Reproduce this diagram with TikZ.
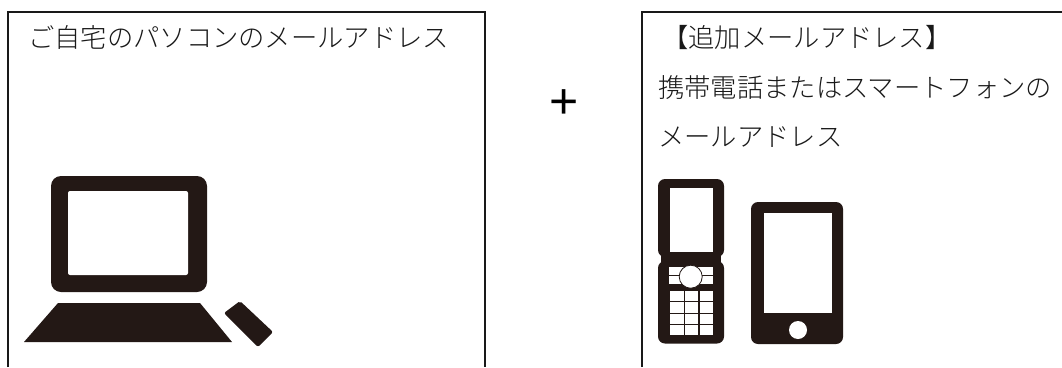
\documentclass[tikz,border=0pt]{standalone}
\usepackage{fontspec}
\newfontfamily\jpfont{Noto Sans CJK JP}[UprightFont=* Light]
\newfontfamily\plusfont{Liberation Sans}
\definecolor{ink}{RGB}{35,24,21}
\tikzset{
  panel/.style={draw=black!90,line width=2pt},
  label/.style={anchor=west,inner sep=0pt,font=\jpfont\fontsize{26.3}{26.3}\selectfont,text=black!90},
  icon/.style={fill=ink,draw=none},
  hole/.style={fill=white,draw=none}
}
\begin{document}
\begin{tikzpicture}[x=1pt,y=-1pt]
\useasboundingbox (0,0) rectangle (1062,367);
\fill[white] (0,0) rectangle (1062,367);
\coordinate (a0) at (7.5,367);\coordinate (a1) at (7.5,11.5);\coordinate (a2) at (484.5,11.5);\coordinate (a3) at (484.5,367);
\draw[panel] (a0) -- (a1) -- (a2) -- (a3);
\coordinate (b0) at (641.5,367);\coordinate (b1) at (641.5,11.5);\coordinate (b2) at (1062,11.5);
\draw[panel] (b0) -- (b1) -- (b2);
\node[label] (t1) at (28,37.5) {ご自宅のパソコンのメールアドレス};
\node[label] (t2) at (662,37.5) {【追加メールアドレス】};
\node[label] (t3) at (658,87.5) {携帯電話またはスマートフォンの};
\node[label] (t4) at (658,137.5) {メールアドレス};
\node[anchor=center,inner sep=0pt,font=\plusfont\fontsize{50}{50}\selectfont] (plus) at (564.5,104.5) {+};
% computer
\fill[icon,rounded corners=10pt] (51,176) rectangle (207,292);
\fill[hole,rounded corners=2pt] (68,191) rectangle (188,275);
\fill[icon] (58,303) -- (200,303) -- (232,342) -- (24,342) -- cycle;
\fill[icon,rounded corners=2pt] (224,313) -- (240,301) -- (273,332) -- (258,347) -- cycle;
% phone
\fill[icon,rounded corners=7pt] (658,179) rectangle (724,257);
\fill[icon,rounded corners=7pt] (658,261) rectangle (724,343.5);
\fill[icon] (661,250) rectangle (721,268);
\fill[hole] (670,188) rectangle (713,252);
\fill[hole] (669,267) rectangle (713,284);
\fill[hole] (670,291) rectangle (713,335);
\draw[ink,line width=1pt] (669,275.5) -- (713,275.5);
\draw[ink,line width=1.2pt] (684.5,288) -- (684.5,335) (699,288) -- (699,335);
\draw[ink,line width=1pt] (670,301.5) -- (713,301.5) (670,313) -- (713,313) (670,324) -- (713,324);
\fill[white,draw=ink,line width=0.8pt] (690.7,276.7) circle (11.5);
% smartphone
\fill[icon,rounded corners=7pt] (751,202) rectangle (843,344);
\fill[hole] (764,213) rectangle (832,313);
\fill[hole] (798,330) circle (9);
\end{tikzpicture}
\end{document}
